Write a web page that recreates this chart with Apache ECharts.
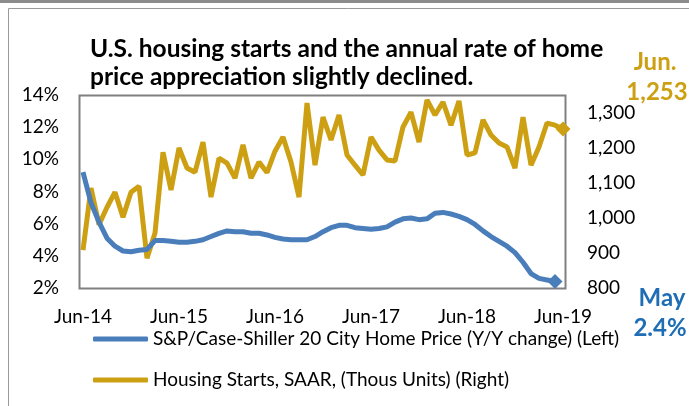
<!DOCTYPE html>
<html>
<head>
<meta charset="UTF-8">
<title>Housing starts and home price appreciation</title>
<script src="https://cdn.jsdelivr.net/npm/echarts@6/dist/echarts.min.js"></script>
<style>
  * {margin: 0; padding: 0;}
  html, body {width: 689px; height: 406px; background: #fff; overflow: hidden;}
  #chart {width: 689px; height: 406px;}
</style>
</head>
<body>
<div id="chart"></div>
<script>
// monthly, Jun-14 .. Jun-19
var months = [
  'Jun-14','Jul-14','Aug-14','Sep-14','Oct-14','Nov-14','Dec-14','Jan-15','Feb-15','Mar-15','Apr-15','May-15',
  'Jun-15','Jul-15','Aug-15','Sep-15','Oct-15','Nov-15','Dec-15','Jan-16','Feb-16','Mar-16','Apr-16','May-16',
  'Jun-16','Jul-16','Aug-16','Sep-16','Oct-16','Nov-16','Dec-16','Jan-17','Feb-17','Mar-17','Apr-17','May-17',
  'Jun-17','Jul-17','Aug-17','Sep-17','Oct-17','Nov-17','Dec-17','Jan-18','Feb-18','Mar-18','Apr-18','May-18',
  'Jun-18','Jul-18','Aug-18','Sep-18','Oct-18','Nov-18','Dec-18','Jan-19','Feb-19','Mar-19','Apr-19','May-19',
  'Jun-19'
];

// S&P/Case-Shiller 20 city, y/y %, Jun-14 .. May-19
var homePrice = [
  9.2, 7.3, 6.1, 5.1, 4.6, 4.3, 4.25, 4.35, 4.4, 4.95, 4.95, 4.9,
  4.85, 4.85, 4.9, 5.0, 5.2, 5.4, 5.55, 5.5, 5.5, 5.4, 5.4, 5.3,
  5.15, 5.05, 5.0, 5.0, 5.0, 5.2, 5.5, 5.75, 5.9, 5.9, 5.75, 5.7,
  5.65, 5.7, 5.8, 6.1, 6.3, 6.35, 6.25, 6.3, 6.65, 6.7, 6.6, 6.45,
  6.25, 5.95, 5.55, 5.2, 4.9, 4.6, 4.2, 3.6, 2.9, 2.6, 2.5, 2.4
];

// housing starts, SAAR, thousands, Jun-14 .. Jun-19
var housingStarts = [
  908, 1085, 980, 1030, 1073, 1002, 1073, 1090, 885, 957, 1187, 1079,
  1199, 1142, 1130, 1216, 1059, 1170, 1156, 1113, 1208, 1113, 1159, 1129,
  1190, 1230, 1159, 1059, 1327, 1150, 1287, 1222, 1293, 1179, 1150, 1122,
  1230, 1193, 1165, 1162, 1259, 1301, 1216, 1336, 1293, 1330, 1264, 1333,
  1179, 1185, 1279, 1236, 1213, 1202, 1142, 1287, 1150, 1202, 1270, 1264,
  1253
];

var blue = '#4A7EBB';
var gold = '#CDA014';
var calloutBlue = '#1E6DB5';
var font = 'Lato';

// only the last point of each line gets a diamond
function lastOnly(arr) {
  return function (v, p) { return p.dataIndex === arr.length - 1 ? 15 : 0; };
}

var chart = echarts.init(document.getElementById('chart'));

var option = {
  backgroundColor: '#fff',
  animation: false,
  textStyle: {fontFamily: font},
  title: {
    text: 'U.S. housing starts and the annual rate of home\nprice appreciation slightly declined.',
    left: 85,
    top: 30,
    textStyle: {fontFamily: font, fontSize: 24.5, fontWeight: 'bold', color: '#000', lineHeight: 28}
  },
  legend: {
    orient: 'vertical',
    left: 88,
    top: 323,
    icon: 'roundRect',
    itemWidth: 55,
    itemHeight: 5,
    itemGap: 19,
    textStyle: {fontFamily: font, fontSize: 19, color: '#000', lineHeight: 22},
    data: ['S&P/Case-Shiller 20 City Home Price (Y/Y change) (Left)', 'Housing Starts, SAAR, (Thous Units) (Right)']
  },
  grid: {left: 83, right: 126, top: 95, bottom: 118, containLabel: false},
  xAxis: {
    type: 'category',
    data: months,
    boundaryGap: false,
    axisLine: {show: false},
    axisTick: {show: false},
    splitLine: {show: false},
    axisLabel: {interval: 11, margin: 19, fontSize: 19, fontFamily: font, color: '#000'}
  },
  yAxis: [
    {
      type: 'value',
      min: 2, max: 14, interval: 2,
      axisLine: {show: false},
      axisTick: {show: false},
      splitLine: {show: false},
      axisLabel: {margin: 24, fontSize: 19, fontFamily: font, color: '#000', formatter: '{value}%'}
    },
    {
      type: 'value',
      position: 'right',
      min: 800, max: 1350, interval: 100,
      axisLine: {show: false},
      axisTick: {show: false},
      splitLine: {show: false},
      axisLabel: {
        margin: 24, fontSize: 19, fontFamily: font, color: '#000', showMaxLabel: false,
        formatter: function (v) { return v.toLocaleString('en-US'); }
      }
    }
  ],
  series: [
    {
      name: 'S&P/Case-Shiller 20 City Home Price (Y/Y change) (Left)',
      type: 'line',
      yAxisIndex: 0,
      data: homePrice,
      symbol: 'diamond',
      symbolSize: lastOnly(homePrice),
      showSymbol: true,
      itemStyle: {color: blue},
      lineStyle: {color: blue, width: 5},
      z: 3
    },
    {
      name: 'Housing Starts, SAAR, (Thous Units) (Right)',
      type: 'line',
      yAxisIndex: 1,
      data: housingStarts,
      symbol: 'diamond',
      symbolSize: lastOnly(housingStarts),
      showSymbol: true,
      itemStyle: {color: gold},
      lineStyle: {color: gold, width: 5},
      z: 2
    }
  ],
  graphic: [
    // outer frame
    {type: 'rect', shape: {x: 0, y: 0, width: 689, height: 3}, style: {fill: '#8c8c8c'}, silent: true},
    {type: 'polyline', shape: {points: [[8.5, 406], [8.5, 8.5], [689, 8.5]]}, style: {stroke: '#9a9a9a', lineWidth: 1, fill: null}, silent: true},
    // plot border
    {type: 'rect', shape: {x: 79.5, y: 95.5, width: 486, height: 193}, style: {stroke: '#808080', lineWidth: 2, fill: null}, silent: true, z: 1},
    // call-outs
    {type: 'text', x: 655, y: 62, style: {text: 'Jun.', fill: gold, font: 'bold 24px Lato', align: 'center', verticalAlign: 'middle'}},
    {type: 'text', x: 657, y: 92, style: {text: '1,253', fill: gold, font: 'bold 24px Lato', align: 'center', verticalAlign: 'middle'}},
    {type: 'text', x: 662, y: 298, style: {text: 'May', fill: calloutBlue, font: 'bold 24px Lato', align: 'center', verticalAlign: 'middle'}},
    {type: 'text', x: 660, y: 328, style: {text: '2.4%', fill: calloutBlue, font: 'bold 24px Lato', align: 'center', verticalAlign: 'middle'}}
  ]
};

chart.setOption(option);
</script>
</body>
</html>
